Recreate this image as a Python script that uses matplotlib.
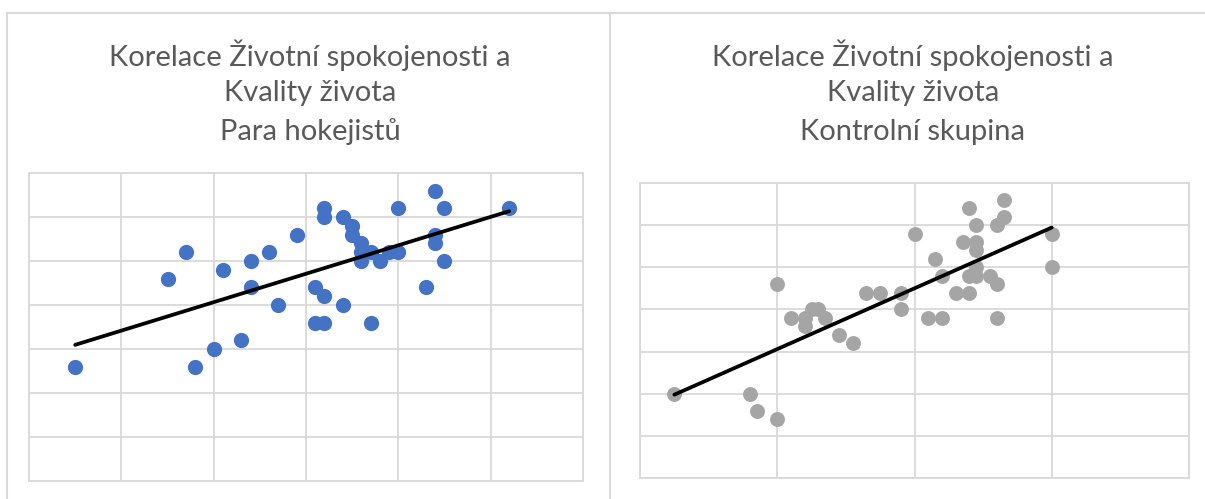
import numpy as np
import matplotlib
matplotlib.use("Agg")
import matplotlib.pyplot as plt
from matplotlib.lines import Line2D

# ---- data ----
hockey_x = [5, 15, 17, 18, 20, 21, 23, 24, 24, 26, 27, 29, 31, 32, 31, 32, 32, 32, 34, 34,
            35, 35, 36, 36, 36, 37, 37, 38, 39, 40, 40, 43, 44, 44, 44, 45, 45, 52]
hockey_y = [13, 23, 26, 13, 15, 24, 16, 25, 22, 26, 20, 28, 22, 21, 18, 18, 31, 30, 30, 20,
            29, 28, 27, 26, 25, 26, 18, 25, 26, 26, 31, 22, 33, 28, 27, 31, 25, 31]

control_x = [5, 16, 17, 20, 20, 22, 24, 24, 25, 26, 27, 29, 31, 33, 35, 38, 38, 40, 42, 44,
             43, 44, 46, 48, 47, 48, 49, 49, 49, 48, 49, 49, 51, 52, 52, 52, 53, 53, 60, 60]
control_y = [10, 10, 8, 7, 23, 19, 19, 18, 20, 20, 19, 17, 16, 22, 22, 22, 20, 29, 19, 19,
             26, 24, 22, 22, 28, 32, 30, 28, 27, 24, 24, 25, 24, 23, 19, 30, 31, 33, 29, 25]

title_lines_left = ["Korelace Životní spokojenosti a", "Kvality života", "Para hokejistů"]
title_lines_right = ["Korelace Životní spokojenosti a", "Kvality života", "Kontrolní skupina"]

W, H = 1205, 499
fig = plt.figure(figsize=(W / 100, H / 100), dpi=100)

GRID = "#d9d9d9"
TXT = "#595959"

def px_axes(x0, y0, x1, y1):
    return fig.add_axes([x0 / W, 1 - y1 / H, (x1 - x0) / W, (y1 - y0) / H])

def style(ax, xmax, xstep, ymax, ystep):
    ax.set_xlim(0, xmax)
    ax.set_ylim(0, ymax)
    ax.set_xticks(np.arange(0, xmax + 1, xstep))
    ax.set_yticks(np.arange(0, ymax + 1, ystep))
    ax.grid(True, color=GRID, linewidth=1.3)
    ax.set_axisbelow(True)
    ax.tick_params(length=0, labelbottom=False, labelleft=False)
    for s in ax.spines.values():
        s.set_color(GRID)
        s.set_linewidth(1.3)

def trend(ax, xs, ys):
    xs = np.asarray(xs, float)
    ys = np.asarray(ys, float)
    m, b = np.polyfit(xs, ys, 1)
    xx = np.array([xs.min(), xs.max()])
    ax.plot(xx, m * xx + b, color="black", linewidth=2.7, solid_capstyle="round", zorder=4)

axL = px_axes(29, 173, 583, 481)
style(axL, 60, 10, 35, 5)
axL.scatter(hockey_x, hockey_y, s=120, color="#4472C4", linewidths=0, zorder=3)
trend(axL, hockey_x, hockey_y)

axR = px_axes(640, 183, 1189, 478)
style(axR, 80, 20, 35, 5)
axR.scatter(control_x, control_y, s=115, color="#A5A5A5", linewidths=0, zorder=3)
trend(axR, control_x, control_y)

# chart-area frames
for (xa, ya, xb, yb) in [(7.5, 12.5, 1205, 12.5), (7.5, 12.5, 7.5, 499), (610, 12.5, 610, 499)]:
    fig.add_artist(Line2D([xa / W, xb / W], [1 - ya / H, 1 - yb / H],
                          color=GRID, linewidth=1.5, transform=fig.transFigure))

fam = ["Lato", "DejaVu Sans"]
for cx, lines in [(310, title_lines_left), (913, title_lines_right)]:
    for i, t in enumerate(lines):
        fig.text(cx / W, 1 - (55 + 38.5 * i) / H, t, ha="center", va="center",
                 fontsize=21, color=TXT, family=fam)

fig.savefig("out.png", dpi=100)
